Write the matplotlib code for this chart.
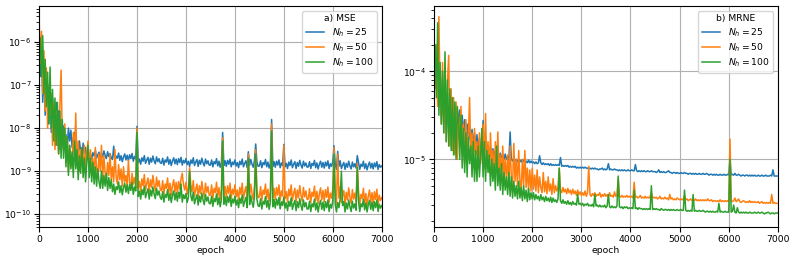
import numpy as np
import matplotlib
matplotlib.use("Agg")
import matplotlib.pyplot as plt

# epochs sampled every 25
epochs = np.arange(0, 7001, 25)

# ---- panel a) MSE, values as log10 ----
mse_25_log10 = [
    -6.0, -6.8, -6.2, -7.4, -6.6, -7.7, -7.0, -7.2, -7.9, -7.1, -8.1, -7.3, -7.6, -8.3, -7.4, -8.4, -7.6, -8.5, -7.8, -8.4,
    -7.95, -8.35, -8.15, -8.45, -8.0, -8.3, -8.05, -8.45, -8.25, -8.1, -8.7, -8.4, -8.6, -8.3, -8.55, -8.75, -8.35, -8.6, -8.45, -8.7,
    -8.54, -8.68, -8.60, -8.72, -8.57, -8.65, -8.52, -8.70, -8.62, -8.56, -8.72, -8.58, -8.67, -8.53, -8.64, -8.71, -8.55, -8.66, -8.59, -8.69,
    -8.73, -8.42, -8.77, -8.65, -8.70, -8.58, -8.75, -8.64, -8.78, -8.67, -8.60, -8.74, -8.63, -8.76, -8.62, -8.71, -8.59, -8.77, -8.66, -8.72,
    -7.96, -8.80, -8.72, -8.84, -8.69, -8.77, -8.64, -8.82, -8.74, -8.68, -8.84, -8.70, -8.79, -8.65, -8.76, -8.83, -8.67, -8.78, -8.71, -8.81,
    -8.82, -8.70, -8.86, -8.74, -8.79, -8.67, -8.84, -8.73, -8.87, -8.76, -8.69, -8.83, -8.72, -8.85, -8.71, -8.80, -8.68, -8.86, -8.75, -8.81,
    -8.71, -8.85, -8.77, -8.89, -8.74, -8.82, -8.69, -8.87, -8.79, -8.73, -8.89, -8.75, -8.84, -8.70, -8.81, -8.88, -8.72, -8.83, -8.76, -8.86,
    -8.86, -8.74, -8.90, -8.78, -8.83, -8.71, -8.88, -8.77, -8.91, -8.80, -8.10, -8.87, -8.76, -8.89, -8.75, -8.84, -8.72, -8.90, -8.79, -8.85,
    -8.74, -8.88, -8.80, -8.92, -8.77, -8.85, -8.72, -8.90, -8.82, -8.76, -8.92, -8.55, -8.87, -8.73, -8.84, -8.91, -8.75, -8.37, -8.79, -8.89,
    -8.88, -8.76, -8.92, -8.80, -8.85, -8.73, -8.90, -8.79, -8.93, -8.82, -7.80, -8.89, -8.78, -8.91, -8.77, -8.86, -8.74, -8.92, -8.81, -8.87,
    -8.38, -8.90, -8.82, -8.94, -8.79, -8.87, -8.74, -8.92, -8.84, -8.78, -8.94, -8.80, -8.89, -8.75, -8.86, -8.93, -8.77, -8.88, -8.81, -8.91,
    -8.90, -8.78, -8.94, -8.82, -8.87, -8.75, -8.92, -8.81, -8.95, -8.84, -8.77, -8.91, -8.80, -8.93, -8.79, -8.88, -8.76, -8.94, -8.83, -8.89,
    -8.78, -8.41, -8.84, -8.96, -8.54, -8.89, -8.76, -8.94, -8.86, -8.80, -8.96, -8.82, -8.91, -8.77, -8.88, -8.95, -8.79, -8.90, -8.83, -8.93,
    -8.64, -8.80, -8.96, -8.84, -8.89, -8.77, -8.94, -8.83, -8.97, -8.86, -8.79, -8.93, -8.82, -8.95, -8.81, -8.90, -8.78, -8.96, -8.85, -8.91,
    -8.88,
]
mse_50_log10 = [
    -5.4, -6.5, -5.75, -7.2, -6.2, -7.6, -6.6, -8.0, -7.0, -7.7, -7.2, -8.4, -7.4, -8.5, -7.6, -8.1, -8.6, -7.5, -6.65, -8.3,
    -8.5, -7.9, -8.8, -8.2, -9.0, -8.4, -8.7, -8.9, -8.1, -8.6, -7.65, -8.9, -8.3, -9.0, -8.5, -8.8, -9.05, -8.4, -8.9, -8.6,
    -8.3, -8.9, -8.5, -9.05, -8.7, -9.15, -8.45, -8.95, -9.1, -8.6, -9.0, -8.4, -9.15, -8.65, -9.05, -9.2, -8.8, -9.1, -8.6, -9.2,
    -8.9, -9.25, -8.5, -9.15, -9.3, -8.85, -9.2, -8.95, -9.35, -8.9, -9.25, -9.1, -9.35, -8.75, -9.25, -9.4, -9.05, -9.3, -9.15, -9.4,
    -8.00, -9.40, -9.24, -9.48, -9.18, -9.34, -9.08, -9.44, -9.28, -9.16, -9.48, -9.20, -9.38, -9.10, -9.32, -9.46, -9.14, -9.36, -9.22, -9.42,
    -9.46, -9.22, -9.54, -9.30, -9.40, -9.16, -9.50, -9.28, -9.56, -9.34, -9.20, -9.48, -9.26, -9.52, -9.24, -9.42, -9.18, -9.05, -9.32, -9.44,
    -9.26, -9.54, -9.38, -8.92, -9.32, -9.48, -9.22, -9.58, -9.42, -9.30, -9.62, -9.34, -9.52, -9.24, -9.46, -9.60, -9.28, -9.50, -9.36, -9.56,
    -9.56, -9.32, -9.64, -9.40, -9.50, -9.26, -9.60, -9.38, -9.66, -9.44, -8.22, -9.58, -9.36, -9.62, -9.34, -9.52, -9.28, -9.64, -9.42, -9.54,
    -9.32, -9.60, -9.44, -9.68, -9.38, -9.54, -9.28, -9.64, -9.48, -9.36, -9.68, -8.60, -9.58, -9.30, -9.52, -9.66, -9.34, -8.50, -9.42, -9.62,
    -9.60, -9.36, -9.68, -9.44, -9.54, -9.30, -9.64, -9.42, -9.70, -9.48, -7.90, -9.62, -9.40, -9.66, -9.38, -9.56, -9.32, -9.68, -9.46, -9.58,
    -8.40, -9.64, -9.48, -9.72, -9.42, -9.58, -9.32, -9.68, -9.52, -9.40, -9.72, -9.44, -9.62, -9.34, -9.56, -9.70, -9.38, -9.60, -9.46, -9.66,
    -9.65, -9.41, -9.73, -9.49, -9.59, -9.35, -9.69, -9.47, -9.75, -9.53, -9.39, -9.67, -9.45, -9.71, -9.43, -9.61, -9.37, -9.73, -9.51, -9.63,
    -9.41, -8.45, -9.53, -9.77, -8.60, -9.63, -9.37, -9.73, -9.57, -9.45, -9.77, -9.49, -9.67, -9.39, -9.61, -9.75, -9.43, -9.65, -9.51, -9.71,
    -8.82, -9.46, -9.78, -9.54, -9.64, -9.40, -9.74, -9.52, -9.80, -9.58, -9.44, -9.72, -9.50, -9.76, -9.48, -9.66, -9.42, -9.78, -9.56, -9.68,
    -9.62,
]
mse_100_log10 = [
    -6.3, -5.9, -6.8, -5.85, -7.2, -6.4, -7.5, -6.7, -7.9, -6.58, -8.0, -7.1, -8.3, -7.3, -8.4, -7.4, -8.6, -7.6, -8.7, -7.8,
    -8.7, -8.0, -8.9, -8.2, -9.1, -8.4, -8.95, -8.55, -9.15, -8.3, -8.95, -8.5, -9.2, -8.65, -9.05, -8.45, -9.15, -8.7, -9.25, -8.8,
    -8.4, -9.15, -8.7, -9.25, -8.8, -9.3, -8.9, -9.35, -8.95, -9.25, -9.4, -9.0, -9.4, -9.1, -9.35, -9.05, -9.45, -9.15, -9.4, -9.2,
    -9.48, -9.30, -9.54, -9.36, -9.43, -9.25, -9.50, -9.34, -9.55, -9.38, -9.28, -9.49, -9.32, -9.52, -9.31, -9.45, -9.26, -9.54, -9.37, -9.46,
    -8.10, -9.59, -9.47, -9.65, -9.43, -9.55, -9.35, -9.62, -9.50, -9.41, -9.65, -9.44, -9.58, -9.37, -9.53, -9.64, -9.40, -9.56, -9.46, -9.61,
    -9.66, -9.48, -9.72, -9.54, -9.61, -9.43, -9.68, -9.52, -9.73, -9.56, -9.46, -9.67, -9.50, -9.70, -9.49, -9.63, -9.30, -9.72, -9.55, -9.64,
    -9.52, -9.73, -9.61, -9.00, -9.57, -9.69, -9.49, -9.76, -9.64, -9.55, -9.79, -9.58, -9.72, -9.51, -9.67, -9.78, -9.54, -9.70, -9.60, -9.75,
    -9.76, -9.58, -9.82, -9.64, -9.71, -9.53, -9.78, -9.62, -9.83, -9.66, -8.30, -9.77, -9.60, -9.80, -9.59, -9.73, -9.55, -9.82, -9.65, -9.74,
    -9.58, -9.79, -9.67, -9.85, -9.63, -9.75, -9.55, -9.82, -9.70, -9.61, -9.85, -8.70, -9.78, -9.57, -9.73, -9.84, -9.60, -8.60, -9.66, -9.81,
    -9.82, -9.64, -9.88, -9.70, -9.77, -9.59, -9.84, -9.68, -9.89, -9.72, -8.07, -9.83, -9.66, -9.86, -9.65, -9.79, -9.61, -9.88, -9.71, -9.80,
    -9.60, -9.86, -9.74, -9.92, -9.70, -9.82, -9.62, -9.89, -9.77, -9.68, -9.92, -9.71, -9.85, -9.64, -9.80, -9.91, -9.67, -9.83, -9.73, -9.88,
    -9.88, -9.70, -9.94, -9.76, -9.83, -9.65, -9.90, -9.74, -9.95, -9.78, -9.68, -9.89, -9.72, -9.92, -9.71, -9.85, -9.67, -9.94, -9.77, -9.86,
    -9.68, -8.60, -9.77, -9.95, -9.73, -9.85, -9.65, -9.00, -9.80, -9.71, -9.95, -9.74, -9.88, -9.67, -9.83, -9.94, -9.70, -9.86, -9.76, -9.91,
    -8.92, -9.70, -9.94, -9.76, -9.83, -9.65, -9.90, -9.74, -9.95, -9.78, -9.68, -9.89, -9.72, -9.92, -9.71, -9.85, -9.67, -9.94, -9.77, -9.86,
    -9.80,
]

# ---- panel b) MRNE, values as log10 ----
mrne_25_log10 = [
    -4.0, -3.8, -4.2, -3.9, -4.4, -4.0, -4.5, -4.1, -4.6, -4.2, -4.65, -4.25, -4.7, -4.3, -4.75, -4.35, -4.8, -4.4, -4.8, -4.45,
    -4.6, -4.44, -4.68, -4.5, -4.72, -4.55, -4.75, -4.6, -4.8, -4.62, -4.82, -4.66, -4.85, -4.7, -4.88, -4.72, -4.9, -4.76, -4.92, -4.8,
    -4.56, -4.88, -4.8, -4.92, -4.84, -4.95, -4.86, -4.96, -4.88, -4.97, -4.9, -4.98, -4.92, -4.99, -4.93, -4.98, -4.95, -5.0, -4.94, -5.0,
    -4.97, -5.01, -4.69, -5.0, -5.02, -4.98, -5.02, -5.0, -5.03, -5.0, -5.03, -5.01, -5.04, -5.01, -5.03, -5.02, -5.04, -5.01, -5.04, -5.02,
    -5.04, -5.03, -5.05, -5.03, -5.05, -5.04, -4.96, -5.04, -5.06, -5.04, -5.06, -5.05, -5.06, -5.05, -5.07, -5.05, -5.07, -5.06, -5.07, -5.06,
    -5.07, -5.06, -5.07, -4.98, -5.08, -5.07, -5.08, -5.07, -5.08, -5.07, -5.09, -5.08, -5.09, -5.08, -5.09, -5.08, -5.1, -5.09, -5.1, -5.09,
    -5.1, -5.09, -5.1, -5.09, -5.1, -5.1, -5.11, -5.1, -5.11, -5.1, -5.11, -5.1, -5.11, -5.11, -5.12, -5.11, -5.11, -5.1, -5.12, -5.11,
    -5.12, -5.11, -5.05, -5.12, -5.11, -5.12, -5.12, -5.11, -5.12, -5.12, -5.13, -5.12, -5.13, -5.12, -5.13, -5.12, -5.13, -5.13, -5.12, -5.13,
    -5.13, -5.12, -5.13, -5.13, -5.06, -5.13, -5.14, -5.13, -5.14, -5.13, -5.14, -5.13, -5.14, -5.14, -5.13, -5.14, -5.14, -5.13, -5.14, -5.14,
    -5.14, -5.15, -5.14, -5.12, -5.15, -5.14, -5.15, -5.14, -5.15, -5.15, -5.14, -5.13, -5.15, -5.15, -5.16, -5.15, -5.15, -5.16, -5.15, -5.16,
    -5.16, -5.15, -5.16, -5.16, -5.15, -5.16, -5.16, -5.17, -5.16, -5.16, -5.17, -5.16, -5.17, -5.16, -5.17, -5.17, -5.16, -5.17, -5.17, -5.16,
    -5.17, -5.17, -5.16, -5.17, -5.18, -5.17, -5.17, -5.18, -5.17, -5.18, -5.17, -5.18, -5.18, -5.17, -5.18, -5.18, -5.17, -5.18, -5.18, -5.17,
    -5.18, -5.0, -5.18, -5.17, -5.18, -5.16, -5.18, -5.18, -5.17, -5.18, -5.19, -5.18, -5.18, -5.19, -5.18, -5.18, -5.19, -5.18, -5.19, -5.18,
    -5.19, -5.18, -5.19, -5.19, -5.18, -5.19, -5.19, -5.18, -5.19, -5.19, -5.18, -5.19, -5.19, -5.19, -5.18, -5.19, -5.12, -5.19, -5.19, -5.19,
    -5.19,
]
mrne_50_log10 = [
    -3.5, -4.2, -3.7, -4.4, -3.38, -4.3, -4.6, -3.9, -4.7, -4.05, -4.8, -4.1, -3.82, -4.85, -4.2, -4.9, -4.3, -4.95, -4.35, -5.0,
    -4.5, -4.85, -4.4, -4.95, -4.6, -5.05, -4.55, -4.9, -4.75, -4.3, -5.0, -4.7, -5.1, -4.65, -4.95, -4.8, -5.1, -4.7, -5.05, -4.85,
    -4.6, -5.1, -4.48, -5.05, -4.8, -5.15, -4.7, -5.1, -4.9, -5.2, -4.8, -5.15, -4.69, -5.2, -4.95, -5.25, -4.85, -5.2, -5.0, -5.25,
    -4.95, -5.25, -4.85, -5.2, -5.3, -4.82, -5.25, -5.0, -5.3, -4.9, -5.25, -5.35, -5.0, -5.3, -4.9, -5.32, -5.1, -5.35, -5.12, -5.36,
    -5.1, -5.34, -5.18, -5.36, -5.12, -5.38, -5.2, -5.32, -5.38, -5.15, -5.37, -5.25, -5.39, -5.2, -5.36, -5.28, -5.4, -5.22, -5.38, -5.3,
    -5.36, -5.32, -5.1, -5.35, -5.38, -5.32, -5.37, -5.34, -5.39, -5.33, -5.38, -5.35, -5.4, -5.34, -5.39, -5.36, -5.41, -5.35, -5.4, -5.37,
    -5.41, -5.38, -5.41, -5.36, -5.42, -5.38, -5.08, -5.4, -5.42, -5.39, -5.41, -5.38, -5.42, -5.4, -5.41, -5.38, -5.43, -5.4, -5.42, -5.39,
    -5.42, -5.4, -5.43, -5.38, -5.42, -5.41, -5.43, -5.37, -5.42, -5.41, -5.22, -5.42, -5.43, -5.41, -5.43, -5.42, -5.43, -5.41, -5.43, -5.42,
    -5.43, -5.42, -5.44, -5.26, -5.43, -5.42, -5.44, -5.43, -5.41, -5.44, -5.43, -5.44, -5.42, -5.44, -5.43, -5.44, -5.42, -5.38, -5.44, -5.43,
    -5.44, -5.43, -5.45, -5.44, -5.42, -5.45, -5.44, -5.45, -5.43, -5.45, -5.44, -5.46, -5.4, -5.45, -5.44, -5.46, -5.45, -5.46, -5.44, -5.45,
    -5.46, -5.45, -5.46, -5.45, -5.41, -5.46, -5.45, -5.47, -5.46, -5.45, -5.47, -5.46, -5.47, -5.45, -5.47, -5.46, -5.47, -5.46, -5.47, -5.46,
    -5.47, -5.46, -5.47, -5.45, -5.47, -5.47, -5.46, -5.48, -5.47, -5.47, -5.48, -5.47, -5.48, -5.46, -5.48, -5.47, -5.48, -5.47, -5.48, -5.47,
    -5.48, -4.77, -5.47, -5.48, -5.47, -5.44, -5.48, -5.47, -5.45, -5.48, -5.49, -5.48, -5.47, -5.48, -5.49, -5.48, -5.49, -5.47, -5.49, -5.48,
    -5.49, -5.48, -5.49, -5.49, -5.48, -5.5, -5.49, -5.48, -5.5, -5.49, -5.5, -5.49, -5.5, -5.49, -5.5, -5.4, -5.5, -5.49, -5.5, -5.5,
    -5.5,
]
mrne_100_log10 = [
    -4.0, -3.7, -4.3, -3.45, -4.5, -3.9, -4.6, -4.0, -4.7, -3.78, -4.8, -4.1, -4.85, -4.2, -4.9, -4.3, -4.95, -4.35, -5.0, -4.4,
    -4.55, -5.0, -4.5, -5.1, -4.65, -5.15, -4.7, -5.2, -4.75, -5.05, -4.85, -5.2, -4.8, -5.25, -4.9, -5.25, -4.85, -5.2, -4.95, -4.65,
    -5.2, -4.8, -5.25, -4.9, -5.15, -4.95, -5.3, -5.0, -5.25, -5.05, -5.35, -4.85, -5.3, -5.1, -5.35, -5.05, -5.4, -5.15, -5.35, -5.2,
    -5.4, -5.15, -5.42, -5.2, -5.44, -5.25, -5.42, -5.3, -5.45, -5.25, -5.44, -5.32, -5.47, -5.3, -5.45, -5.35, -5.48, -5.33, -5.46, -5.38,
    -5.45, -5.38, -5.46, -5.4, -5.45, -5.42, -5.47, -5.4, -5.46, -5.43, -5.48, -5.42, -5.47, -5.44, -5.48, -5.43, -5.49, -5.44, -5.48, -5.46,
    -5.49, -5.45, -5.1, -5.47, -5.5, -5.46, -5.5, -5.48, -5.51, -5.47, -5.51, -5.49, -5.52, -5.48, -5.51, -5.5, -5.52, -5.4, -5.51, -5.5,
    -5.52, -5.5, -5.53, -5.51, -5.52, -5.5, -5.53, -5.52, -5.53, -5.51, -5.54, -5.4, -5.53, -5.52, -5.54, -5.52, -5.54, -5.53, -5.54, -5.52,
    -5.55, -5.53, -5.4, -5.54, -5.55, -5.53, -5.55, -5.54, -5.55, -5.53, -5.19, -5.54, -5.55, -5.54, -5.56, -5.54, -5.55, -5.54, -5.56, -5.55,
    -5.56, -5.55, -5.56, -5.35, -5.56, -5.55, -5.57, -5.55, -5.56, -5.56, -5.57, -5.56, -5.57, -5.56, -5.57, -5.56, -5.57, -5.3, -5.57, -5.56,
    -5.57, -5.56, -5.57, -5.57, -5.58, -5.56, -5.57, -5.58, -5.57, -5.57, -5.58, -5.57, -5.58, -5.57, -5.58, -5.57, -5.58, -5.58, -5.57, -5.58,
    -5.58, -5.57, -5.58, -5.58, -5.35, -5.58, -5.59, -5.58, -5.59, -5.58, -5.59, -5.4, -5.59, -5.58, -5.59, -5.59, -5.58, -5.59, -5.59, -5.58,
    -5.59, -5.6, -5.59, -5.59, -5.6, -5.59, -5.6, -5.59, -5.6, -5.6, -5.59, -5.6, -5.5, -5.6, -5.59, -5.6, -5.6, -5.59, -5.6, -5.6,
    -5.6, -5.0, -5.6, -5.59, -5.52, -5.6, -5.61, -5.55, -5.6, -5.61, -5.6, -5.61, -5.6, -5.61, -5.6, -5.61, -5.61, -5.6, -5.61, -5.61,
    -5.61, -5.6, -5.61, -5.61, -5.6, -5.61, -5.61, -5.6, -5.61, -5.62, -5.61, -5.61, -5.6, -5.61, -5.62, -5.61, -5.61, -5.62, -5.61, -5.61,
    -5.61,
]

labels = [r"$N_h = 25$", r"$N_h = 50$", r"$N_h = 100$"]
colors = ["#1f77b4", "#ff7f0e", "#2ca02c"]
titles = ["a) MSE", "b) MRNE"]

FS = 6.7
plt.rcParams["font.family"] = ["DejaVu Sans"]
plt.rcParams["font.size"] = FS

fig = plt.figure(figsize=(7.97, 2.61), dpi=100)
ax1 = fig.add_axes([0.049, 0.130, 0.430, 0.847])
ax2 = fig.add_axes([0.5445, 0.130, 0.4315, 0.847])

panels = [
    (ax1, [mse_25_log10, mse_50_log10, mse_100_log10], (5e-11, 6.9e-6)),
    (ax2, [mrne_25_log10, mrne_50_log10, mrne_100_log10], (1.7e-6, 5.5e-4)),
]

for (ax, series, ylim), title in zip(panels, titles):
    for s, lab, c in zip(series, labels, colors):
        ax.semilogy(epochs, 10.0 ** np.array(s), color=c, lw=1.1, label=lab)
    ax.set_xlim(0, 7000)
    ax.set_ylim(*ylim)
    ax.set_xlabel("epoch", fontsize=FS, labelpad=2)
    ax.grid(True, which="major", color="#b0b0b0", lw=0.8)
    ax.tick_params(labelsize=FS, pad=2)
    ax.set_xticks(np.arange(0, 7001, 1000))
    ax.legend(title=title, loc="upper right", fontsize=FS,
              title_fontsize=FS, handlelength=2.0, borderpad=0.4,
              labelspacing=0.3)

fig.savefig("out.png", dpi=100)
